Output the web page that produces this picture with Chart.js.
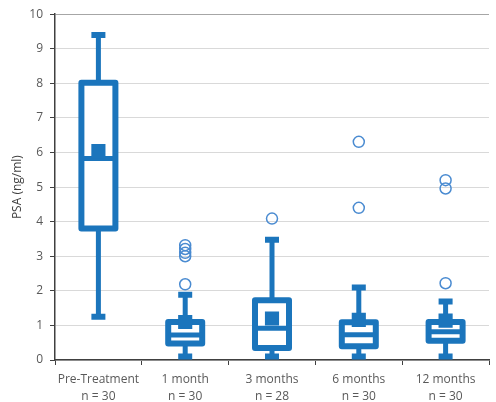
<!DOCTYPE html>
<html>
<head>
<meta charset="utf-8">
<script src="https://cdn.jsdelivr.net/npm/chart.js@4.4.1/dist/chart.umd.min.js"></script>
<style>
  html, body { margin: 0; padding: 0; background: #fff; overflow: hidden; }
  #wrap { width: 499px; height: 402px; }
</style>
</head>
<body>
<div id="wrap"><canvas id="chart"></canvas></div>
<script>
/* data */
const groups   = ['Pre-Treatment', '1 month', '3 months', '6 months', '12 months'];
const counts   = [30, 30, 28, 30, 30];
const whiskLo  = [1.25, 0.10, 0.10, 0.10, 0.10];
const q1       = [3.80, 0.48, 0.35, 0.40, 0.56];
const medians  = [5.83, 0.72, 0.92, 0.73, 0.82];
const q3       = [8.02, 1.10, 1.73, 1.09, 1.10];
const whiskHi  = [9.40, 1.89, 3.48, 2.10, 1.69];
const means    = [6.04, 1.10, 1.20, 1.16, 1.14];
const outliers = [[], [3.32, 3.21, 3.10, 3.00, 2.19], [4.09], [6.31, 4.40], [5.20, 4.96, 2.22]];
const yTicks   = [0, 1, 2, 3, 4, 5, 6, 7, 8, 9, 10];

const BLUE = '#1b75bc';
const OUT_BLUE = '#4a8bd1';
const FONT = "'Open Sans', 'Liberation Sans', sans-serif";

// outliers as {x: category label, y: value}
const outlierPts = [];
outliers.forEach((vals, i) => vals.forEach(v => outlierPts.push({ x: groups[i], y: v })));

/* box + whiskers, drawn through the chart's scales */
const boxPlot = {
  id: 'boxPlot',
  beforeDatasetsDraw(chart) {
    const { ctx, scales: { x, y } } = chart;
    const halfW = 17, capW = 7;
    ctx.save();
    ctx.strokeStyle = BLUE;
    groups.forEach((g, i) => {
      const cx = x.getPixelForValue(i);
      const yLo = y.getPixelForValue(whiskLo[i]);
      const yQ1 = y.getPixelForValue(q1[i]);
      const yMed = y.getPixelForValue(medians[i]);
      const yQ3 = y.getPixelForValue(q3[i]);
      const yHi = y.getPixelForValue(whiskHi[i]);

      // whiskers
      ctx.lineCap = 'butt';
      ctx.lineWidth = 5;
      ctx.beginPath();
      ctx.moveTo(cx, yQ3); ctx.lineTo(cx, yHi);
      ctx.moveTo(cx, yQ1); ctx.lineTo(cx, yLo);
      ctx.stroke();
      ctx.lineWidth = 6;
      ctx.beginPath();
      ctx.moveTo(cx - capW, yHi); ctx.lineTo(cx + capW, yHi);
      ctx.moveTo(cx - capW, yLo); ctx.lineTo(cx + capW, yLo);
      ctx.stroke();

      // box
      ctx.fillStyle = '#fff';
      ctx.fillRect(cx - halfW, yQ3, halfW * 2, yQ1 - yQ3);
      ctx.lineJoin = 'round';
      ctx.lineWidth = 6;
      ctx.strokeRect(cx - halfW, yQ3, halfW * 2, yQ1 - yQ3);

      // median
      ctx.lineWidth = 5;
      ctx.beginPath();
      ctx.moveTo(cx - halfW, yMed); ctx.lineTo(cx + halfW, yMed);
      ctx.stroke();
    });
    ctx.restore();
  }
};

new Chart(document.getElementById('chart'), {
  type: 'line',
  data: {
    labels: groups,
    datasets: [
      {
        label: 'Mean',
        data: means,
        showLine: false,
        pointStyle: 'rect',
        pointRadius: 10,
        pointHoverRadius: 10,
        pointBorderWidth: 0,
        pointBackgroundColor: BLUE,
        borderColor: BLUE
      },
      {
        label: 'Outliers',
        data: outlierPts,
        showLine: false,
        pointStyle: 'circle',
        pointRadius: 5.5,
        pointHoverRadius: 5.5,
        pointBorderWidth: 1.5,
        pointBorderColor: OUT_BLUE,
        pointBackgroundColor: 'rgba(0,0,0,0)'
      }
    ]
  },
  options: {
    responsive: true,
    maintainAspectRatio: false,
    animation: false,
    layout: { padding: { top: 14, left: 0, right: 0, bottom: 0 } },
    plugins: { legend: { display: false }, tooltip: { enabled: false } },
    scales: {
      x: {
        offset: true,
        grid: { offset: true, drawOnChartArea: false, drawTicks: true, tickLength: 5, tickColor: '#404040' },
        border: { color: '#404040', width: 1.5 },
        ticks: {
          color: '#595959',
          font: { family: FONT, size: 12, lineHeight: 1.4 },
          padding: 6,
          maxRotation: 0,
          autoSkip: false,
          callback: (v, i) => [groups[i], 'n = ' + counts[i]]
        },
        afterFit: s => { s.height = 42; }
      },
      y: {
        min: 0,
        max: 10,
        afterBuildTicks: s => { s.ticks = yTicks.map(v => ({ value: v })); },
        grid: {
          color: c => (c.tick && c.tick.value === 10 ? '#a6a6a6' : '#d9d9d9'),
          lineWidth: 1,
          tickLength: 5,
          tickColor: '#404040'
        },
        border: { color: '#404040', width: 1.5 },
        ticks: { color: '#595959', font: { family: FONT, size: 12 }, padding: 7 },
        title: { display: true, text: 'PSA (ng/ml)', color: '#404040', font: { family: FONT, size: 12 }, padding: { top: 10, bottom: 0 } },
        afterFit: s => { s.width = 55; }
      }
    }
  },
  plugins: [boxPlot]
});
</script>
</body>
</html>
